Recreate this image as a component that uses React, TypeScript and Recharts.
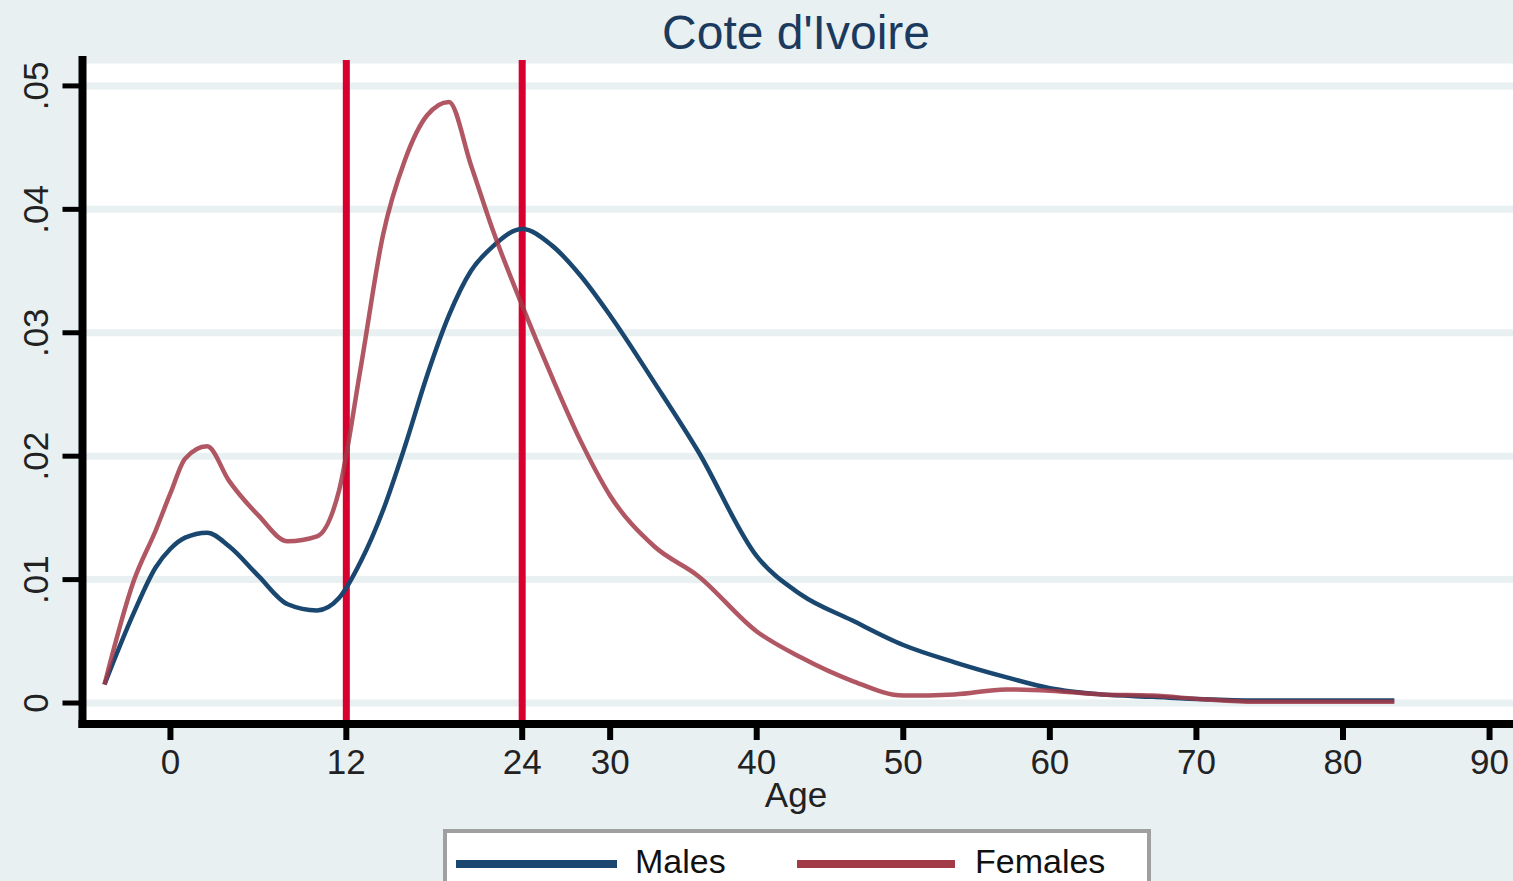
import { LineChart, Line, XAxis, YAxis, CartesianGrid, ReferenceLine, Label } from "recharts";

const ages = [
  -4.5, -2.5, -1, 0, 1, 2.5, 4, 6, 8, 10, 11.5, 13, 14.5, 16, 17.5, 19, 20.5, 22, 24, 26, 28, 30, 33, 36, 40, 43,
  46.5, 50, 53.5, 57, 60, 63.5, 67, 70.5, 74, 77.5, 80, 83.5,
];

const males = [
  0.0015, 0.0073, 0.011, 0.0125, 0.0134, 0.0138, 0.0127, 0.0103, 0.008, 0.0075, 0.0085, 0.0115, 0.0156, 0.0208,
  0.0265, 0.0314, 0.035, 0.037, 0.0384, 0.0371, 0.0346, 0.0314, 0.026, 0.0204, 0.0119, 0.0088, 0.0067, 0.0047,
  0.0033, 0.0021, 0.0012, 0.0007, 0.0005, 0.0003, 0.0002, 0.0002, 0.0002, 0.0002,
];

const females = [
  0.0015, 0.0099, 0.014, 0.017, 0.0198, 0.0208, 0.018, 0.0152, 0.0131, 0.0135, 0.0172, 0.0273, 0.0379, 0.044,
  0.0476, 0.0487, 0.0436, 0.0383, 0.0322, 0.0265, 0.0212, 0.0168, 0.0127, 0.0103, 0.0058, 0.0037, 0.0018, 0.0006,
  0.0007, 0.0011, 0.001, 0.0007, 0.0006, 0.0003, 0.0001, 0.0001, 0.0001, 0.0001,
];

const xTicks = [0, 12, 24, 30, 40, 50, 60, 70, 80, 90];
const yTicks = [0, 0.01, 0.02, 0.03, 0.04, 0.05];
const cutoffs = [12, 24];

const maleData = ages.map((age, i) => ({ age, v: males[i] }));
const femaleData = ages.map((age, i) => ({ age, v: females[i] }));

const font = "'Liberation Sans', Arial, Helvetica, sans-serif";
const bg = "#e8f0f2";
const blue = "#1a476f";
const maroon = "#a23a48";

const fmtY = (v: number) => (v === 0 ? "0" : "." + String(Math.round(v * 100)).padStart(2, "0"));

const YTick = ({ y, payload }: any) => (
  <text
    x={48}
    y={y}
    transform={`rotate(-90, 48, ${y})`}
    textAnchor="middle"
    fontSize={35}
    fontFamily={font}
    fill="#222"
  >
    {fmtY(payload.value)}
  </text>
);

const XTick = ({ x, payload }: any) => (
  <text x={x} y={774} textAnchor="middle" fontSize={35} fontFamily={font} fill="#222">
    {payload.value}
  </text>
);

const App = () => {
  return (
    <div style={{ position: "absolute", left: 0, top: 0, width: 1513, height: 881, background: bg, overflow: "hidden" }}>
      <LineChart width={1513} height={881} margin={{ top: 60, right: 0, bottom: 0, left: 0 }}>
        <CartesianGrid vertical={false} fill="#ffffff" stroke={bg} strokeWidth={7} />
        <XAxis
          type="number"
          dataKey="age"
          domain={[-6, 91.6]}
          ticks={xTicks}
          interval={0}
          allowDataOverflow
          height={157}
          tickSize={16}
          axisLine={{ stroke: "#000", strokeWidth: 8, strokeLinecap: "square" }}
          tickLine={{ stroke: "#000", strokeWidth: 6 }}
          tick={<XTick />}
        >
          <Label
            content={() => (
              <text x={796} y={807} textAnchor="middle" fontSize={35} fontFamily={font} fill="#222">
                Age
              </text>
            )}
          />
        </XAxis>
        <YAxis
          type="number"
          domain={[-0.0017, 0.0521]}
          ticks={yTicks}
          interval={0}
          allowDataOverflow
          width={82.5}
          tickSize={20}
          axisLine={{ stroke: "#000", strokeWidth: 8, strokeLinecap: "square" }}
          tickLine={{ stroke: "#000", strokeWidth: 5 }}
          tick={<YTick />}
        />
        {cutoffs.map((c) => (
          <ReferenceLine key={c} x={c} stroke="#d7002e" strokeWidth={7} />
        ))}
        <Line
          data={maleData}
          dataKey="v"
          type="monotone"
          stroke={blue}
          strokeWidth={4.5}
          dot={false}
          isAnimationActive={false}
        />
        <Line
          data={femaleData}
          dataKey="v"
          type="monotone"
          stroke={maroon}
          strokeOpacity={0.85}
          strokeWidth={4.5}
          dot={false}
          isAnimationActive={false}
        />
      </LineChart>
      <svg width={1513} height={881} style={{ position: "absolute", left: 0, top: 0, pointerEvents: "none" }}>
        <text x={796} y={49} textAnchor="middle" fontSize={48} fontFamily={font} fill="#1c3a5e">
          Cote d'Ivoire
        </text>
        <rect x={445} y={831} width={704} height={70} fill="#ffffff" stroke="#a0a0a0" strokeWidth={4} />
        <line x1={456} y1={864} x2={617} y2={864} stroke={blue} strokeWidth={8} />
        <text x={635} y={873} fontSize={34} fontFamily={font} fill="#111">
          Males
        </text>
        <line x1={797} y1={864} x2={955} y2={864} stroke={maroon} strokeWidth={8} />
        <text x={975} y={873} fontSize={34} fontFamily={font} fill="#111">
          Females
        </text>
      </svg>
    </div>
  );
};

export default App;
